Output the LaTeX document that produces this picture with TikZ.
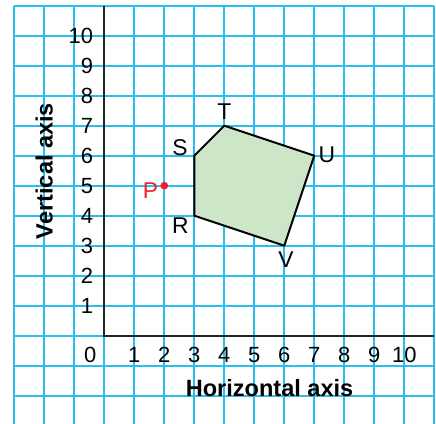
\documentclass[tikz,border=0pt]{standalone}
\usepackage{fontspec}
\setmainfont{Liberation Sans}
\definecolor{gridblue}{RGB}{40,190,240}
\definecolor{shapegreen}{RGB}{205,230,200}
\definecolor{ptred}{RGB}{235,35,45}
\begin{document}
\begin{tikzpicture}[x=0.6cm,y=0.6cm,
  gridline/.style={draw=gridblue,line width=1.1pt},
  axisline/.style={draw=black!85,line width=1.1pt},
  num/.style={font=\fontsize{12.5}{14}\selectfont,inner sep=0pt},
  vlabel/.style={font=\fontsize{13}{15}\selectfont,inner sep=0pt},
  axlabel/.style={font=\fontsize{13.4}{16}\bfseries\selectfont,inner sep=0pt}]
\useasboundingbox (-3.477,-2.943) rectangle (11.057,11.19);
% grid
\foreach \x in {-3,...,11} \draw[gridline] (\x,-2.943) -- (\x,11);
\foreach \y in {-2,...,11} \draw[gridline] (-3,\y) -- (11,\y);
% polygon
\coordinate (S) at (3,6);
\coordinate (T) at (4,7);
\coordinate (U) at (7,6);
\coordinate (V) at (6,3);
\coordinate (R) at (3,4);
\draw[fill=shapegreen,line width=1.1pt,line join=round] (S) -- (T) -- (U) -- (V) -- (R) -- cycle;
% axes
\coordinate (O) at (0,0);
\coordinate (xend) at (11,0);
\coordinate (yend) at (0,11);
\draw[axisline] (yend) -- (O) -- (xend);
% tick labels
\foreach \i in {1,...,10} \node[num] at (\i,-0.64) {\i};
\foreach \i in {1,...,10} \node[num,anchor=east] at (-0.36,\i) {\i};
\node[num] (zero) at (-0.47,-0.64) {0};
% vertex labels
\node[vlabel] (lT) at (4.0,7.47) {T};
\node[vlabel] (lS) at (2.52,6.27) {S};
\node[vlabel] (lU) at (7.42,6.02) {U};
\node[vlabel] (lV) at (6.06,2.52) {V};
\node[vlabel] (lR) at (2.54,3.67) {R};
% point P
\fill[ptred] (2,5) circle (0.13);
\node[vlabel,text=ptred] (lP) at (1.54,4.82) {P};
% axis titles
\node[axlabel] (hax) at (5.51,-1.74) {Horizontal axis};
\node[axlabel,rotate=90] (vax) at (-2.0,5.49) {Vertical axis};
\end{tikzpicture}
\end{document}
